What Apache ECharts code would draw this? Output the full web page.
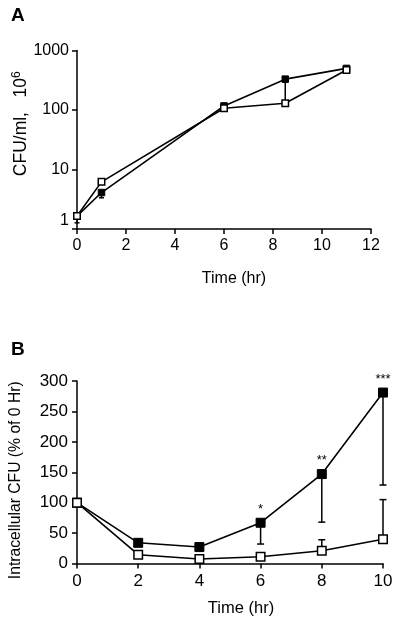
<!DOCTYPE html>
<html>
<head>
<meta charset="utf-8">
<script src="https://cdn.jsdelivr.net/npm/echarts@6/dist/echarts.min.js"></script>
<style>html,body{margin:0;padding:0;background:#fff;}#c{width:400px;height:623px;}</style>
</head>
<body>
<div id="c"></div>
<script>
// Panel A data
var timeA = [0, 1, 6, 8.5, 11];
var filledA = [1.65, 4.1, 117, 330, 500];
var filledA_low = [1.27, 3.35, null, 130, null];
var openA = [1.65, 6.2, 107, 130, 470];
var xTicksA = [0, 2, 4, 6, 8, 10, 12];
var yTicksA = [1, 10, 100, 1000];

// Panel B data
var timeB = [0, 2, 4, 6, 8, 10];
var filledB = [100, 34, 27, 67, 147, 281];
var filledB_low = [null, null, null, 32, 68, 129];
var openB = [100, 14.5, 7.5, 11, 21, 40];
var openB_high = [null, null, null, null, 39, 105];
var starsB = ['', '', '', '*', '**', '***'];
var xTicksB = [0, 2, 4, 6, 8, 10];
var yTicksB = [0, 50, 100, 150, 200, 250, 300];

var FONT = 'Liberation Sans';
var chart = echarts.init(document.getElementById('c'), null, {renderer: 'canvas'});

function pairs(xs, ys) { return xs.map(function (x, i) { return [x, ys[i]]; }); }
function errPairs(xs, ys, es) {
  var out = [];
  xs.forEach(function (x, i) { if (es[i] != null) out.push([x, ys[i], es[i]]); });
  return out;
}
function errRender(capHalf) {
  return function (params, api) {
    var p0 = api.coord([api.value(0), api.value(1)]);
    var p1 = api.coord([api.value(0), api.value(2)]);
    var st = {stroke: '#000', lineWidth: 1.5};
    return {
      type: 'group',
      children: [
        {type: 'line', shape: {x1: p0[0], y1: p0[1], x2: p1[0], y2: p1[1]}, style: st},
        {type: 'line', shape: {x1: p1[0] - capHalf, y1: p1[1], x2: p1[0] + capHalf, y2: p1[1]}, style: st}
      ]
    };
  };
}

var axisLine = {lineStyle: {color: '#000', width: 1.5}};
var axisTick = {show: true, length: 5, lineStyle: {color: '#000', width: 1.5}};

var option = {
  backgroundColor: '#fff',
  animation: false,
  textStyle: {fontFamily: FONT, color: '#000'},
  title: [
    {text: 'A', left: 6, top: 1, textStyle: {fontFamily: FONT, fontSize: 19, fontWeight: 'bold', color: '#000'}},
    {text: 'B', left: 6, top: 335, textStyle: {fontFamily: FONT, fontSize: 19, fontWeight: 'bold', color: '#000'}}
  ],
  grid: [
    {left: 77, top: 50.5, width: 294, height: 178.5, containLabel: false, outerBoundsMode: 'none'},
    {left: 77, top: 381, width: 306, height: 182.5, containLabel: false, outerBoundsMode: 'none'}
  ],
  xAxis: [
    {
      gridIndex: 0, type: 'value', min: xTicksA[0], max: xTicksA[xTicksA.length - 1], interval: 2,
      axisLine: axisLine, axisTick: axisTick, splitLine: {show: false},
      axisLabel: {fontSize: 16, color: '#000', margin: 9, fontFamily: FONT},
      name: 'Time (hr)', nameLocation: 'middle', nameGap: 42,
      nameTextStyle: {fontSize: 16, color: '#000', fontFamily: FONT, padding: [0, 0, 0, 20]}
    },
    {
      gridIndex: 1, type: 'value', min: xTicksB[0], max: xTicksB[xTicksB.length - 1], interval: 2,
      axisLine: axisLine, axisTick: axisTick, splitLine: {show: false},
      axisLabel: {fontSize: 17, color: '#000', margin: 9, fontFamily: FONT},
      name: 'Time (hr)', nameLocation: 'middle', nameGap: 36,
      nameTextStyle: {fontSize: 16.5, color: '#000', fontFamily: FONT, padding: [0, 0, 0, 22]}
    }
  ],
  yAxis: [
    {
      gridIndex: 0, type: 'log', logBase: 10, min: yTicksA[0], max: yTicksA[yTicksA.length - 1],
      axisLine: axisLine, axisTick: axisTick, splitLine: {show: false}, minorTick: {show: false},
      axisLabel: {
        fontSize: 16, color: '#000', margin: 8, fontFamily: FONT,
        formatter: function (v) { return v === 1 ? '{lo|1}' : String(v); },
        rich: {lo: {fontSize: 16, fontFamily: FONT, color: '#000', padding: [0, 0, 16, 0]}}
      },
      name: '{a|CFU/ml,   10}{s|6}', nameLocation: 'middle', nameGap: 46, nameMoveOverlap: false,
      nameTextStyle: {
        fontSize: 17.5, color: '#000', fontFamily: FONT, padding: [0, 0, 0, 32],
        rich: {a: {fontSize: 17.5, fontFamily: FONT, color: '#000', lineHeight: 20}, s: {fontSize: 12, fontFamily: FONT, color: '#000', verticalAlign: 'top', lineHeight: 20, padding: [0, 0, 10, 0]}}
      }
    },
    {
      gridIndex: 1, type: 'value', min: yTicksB[0], max: yTicksB[yTicksB.length - 1], interval: 50,
      axisLine: axisLine, axisTick: axisTick, splitLine: {show: false},
      axisLabel: {fontSize: 17, color: '#000', margin: 9, fontFamily: FONT},
      name: 'Intracellular CFU (% of 0 Hr)', nameLocation: 'middle', nameGap: 53,
      nameTextStyle: {fontSize: 15.7, color: '#000', fontFamily: FONT, padding: [0, 16, 0, 0]}
    }
  ],
  series: [
    {type: 'custom', xAxisIndex: 0, yAxisIndex: 0, renderItem: errRender(2.5), data: errPairs(timeA, filledA, filledA_low), z: 1},
    {type: 'line', xAxisIndex: 0, yAxisIndex: 0, data: pairs(timeA, filledA), symbol: 'rect', symbolSize: 6.5,
      lineStyle: {color: '#000', width: 1.6}, itemStyle: {color: '#000', borderColor: '#000', borderWidth: 1}, z: 2},
    {type: 'line', xAxisIndex: 0, yAxisIndex: 0, data: pairs(timeA, openA), symbol: 'rect', symbolSize: 6.5,
      lineStyle: {color: '#000', width: 1.6}, itemStyle: {color: '#fff', borderColor: '#000', borderWidth: 1.5}, z: 3},

    {type: 'custom', xAxisIndex: 1, yAxisIndex: 1, renderItem: errRender(3.5), data: errPairs(timeB, filledB, filledB_low), z: 1},
    {type: 'custom', xAxisIndex: 1, yAxisIndex: 1, renderItem: errRender(3.5), data: errPairs(timeB, openB, openB_high), z: 1},
    {type: 'line', xAxisIndex: 1, yAxisIndex: 1, data: pairs(timeB, filledB), symbol: 'rect', symbolSize: 9,
      lineStyle: {color: '#000', width: 1.6}, itemStyle: {color: '#000', borderColor: '#000', borderWidth: 1}, z: 2,
      label: {show: true, position: 'top', distance: 2, fontSize: 13, color: '#000', fontFamily: FONT,
        formatter: function (p) { return starsB[p.dataIndex]; }}},
    {type: 'line', xAxisIndex: 1, yAxisIndex: 1, data: pairs(timeB, openB), symbol: 'rect', symbolSize: 8.5,
      lineStyle: {color: '#000', width: 1.6}, itemStyle: {color: '#fff', borderColor: '#000', borderWidth: 1.5}, z: 3}
  ]
};
chart.setOption(option);
</script>
</body>
</html>
